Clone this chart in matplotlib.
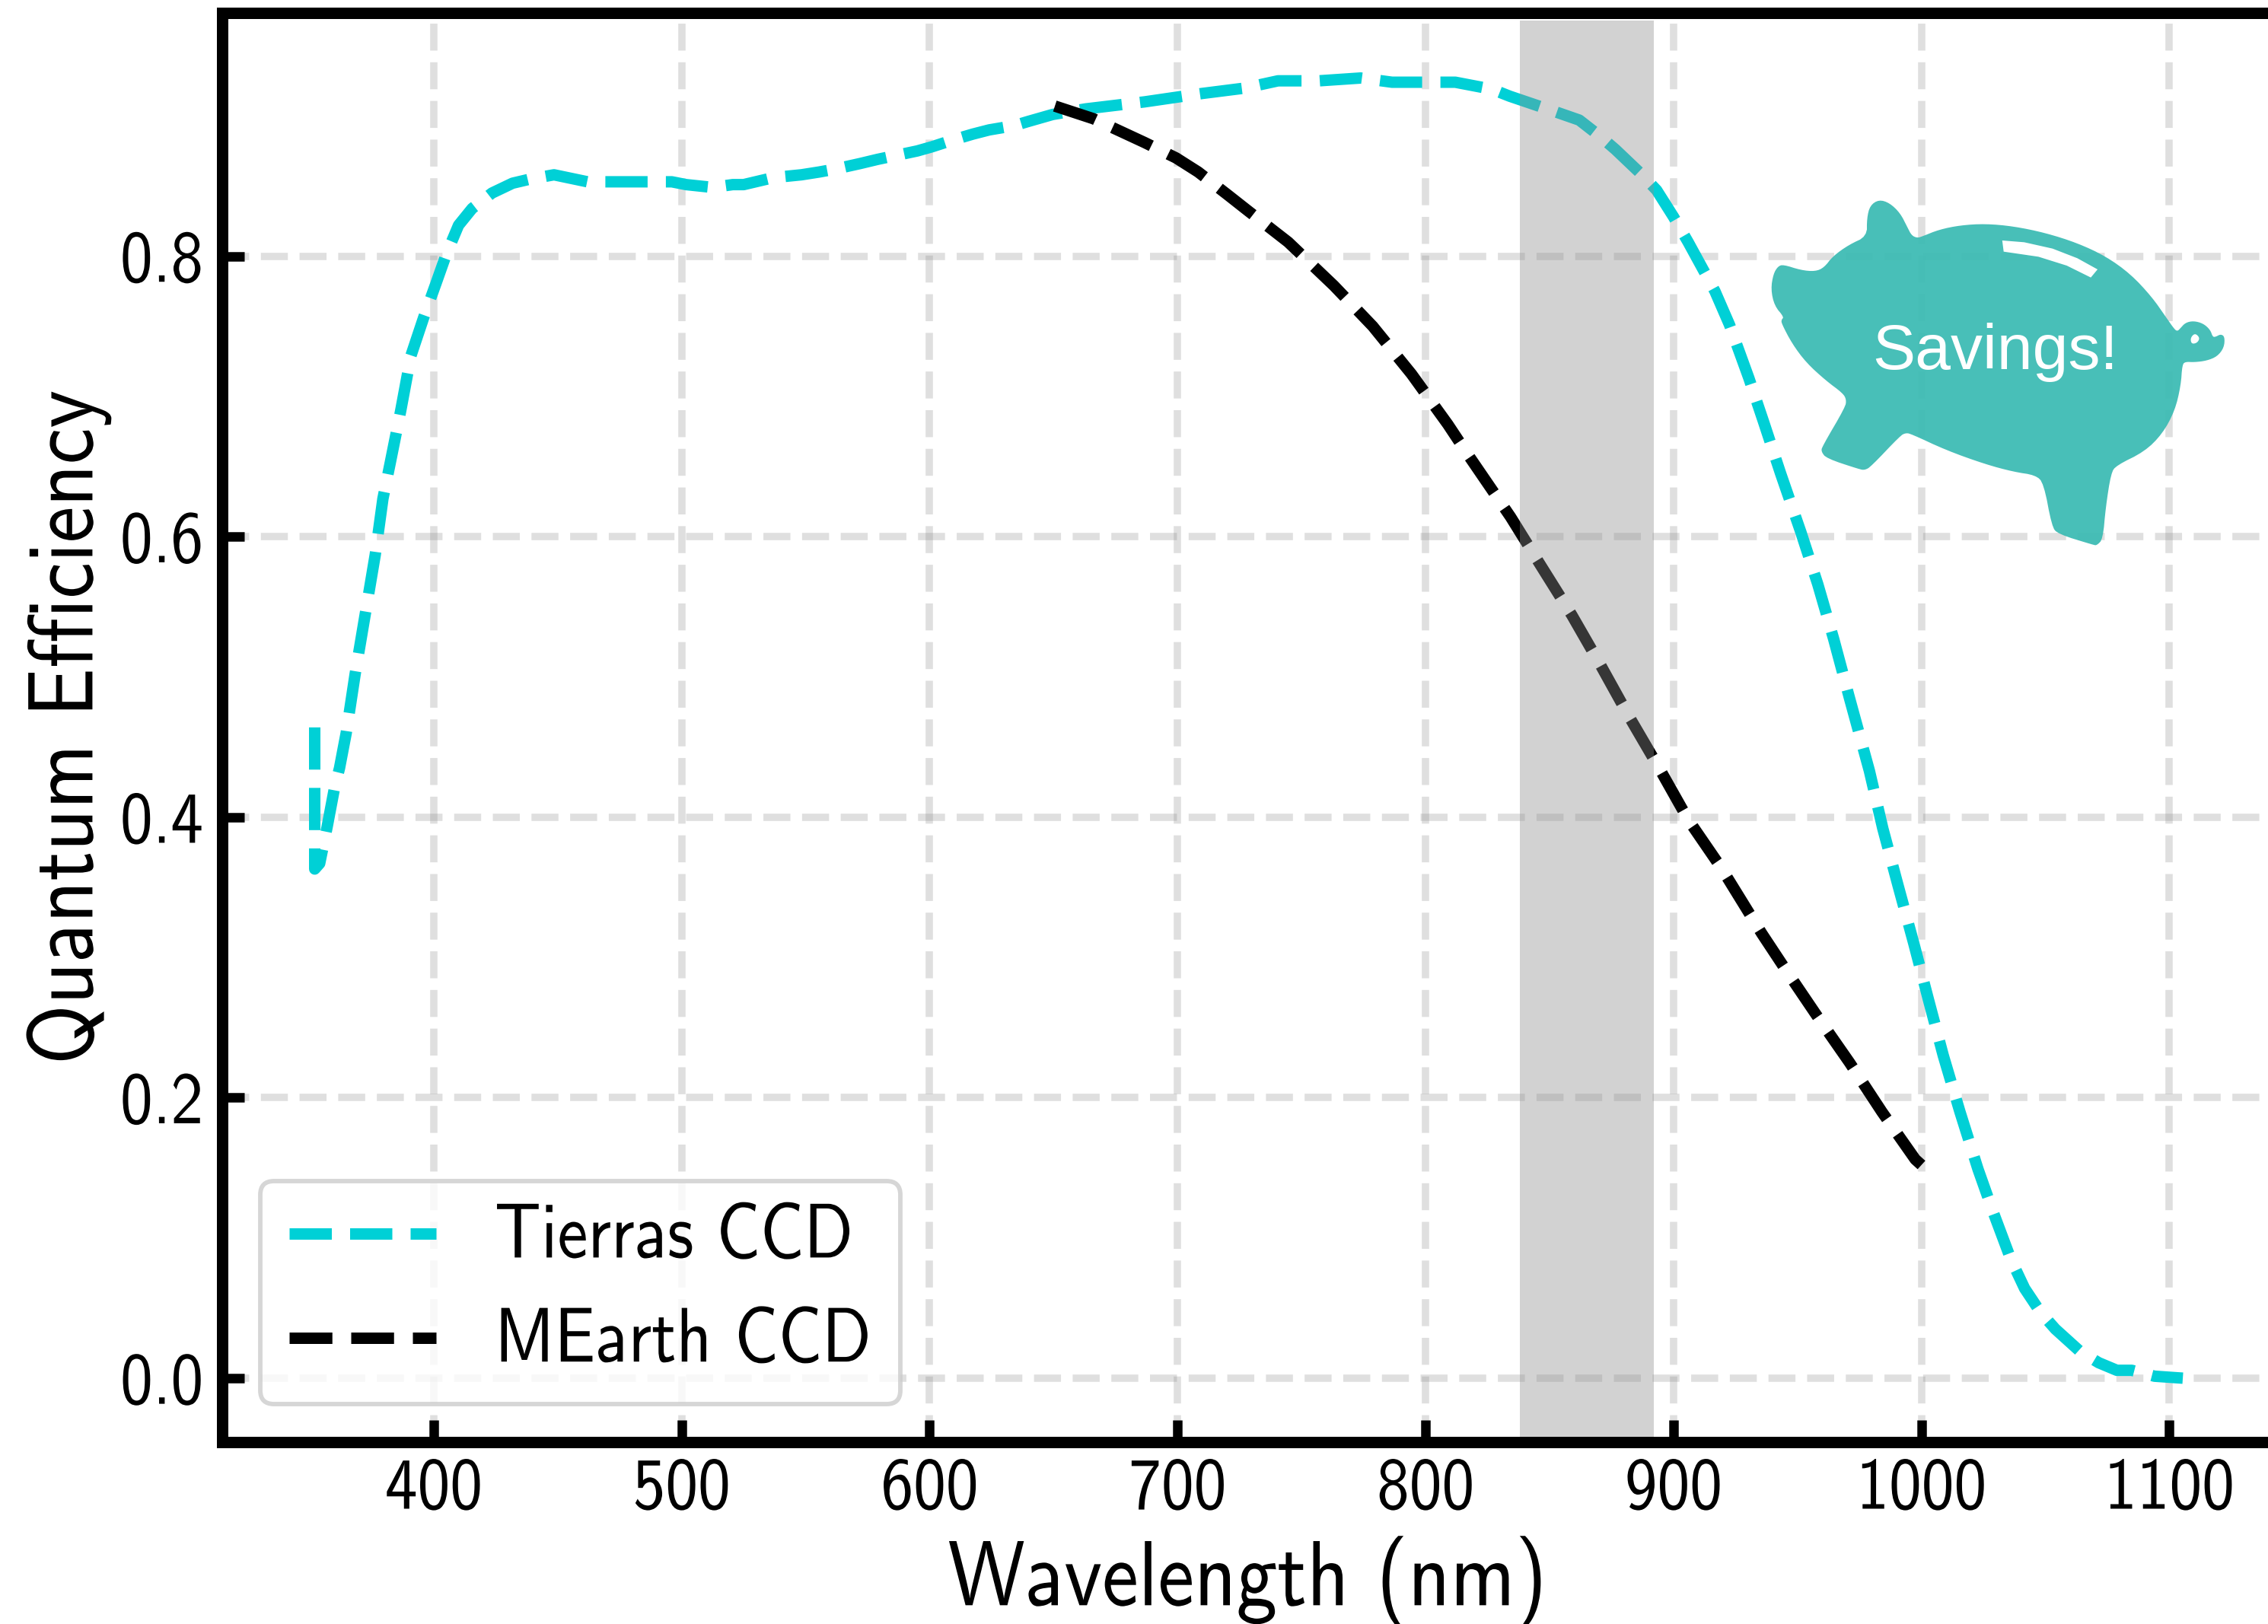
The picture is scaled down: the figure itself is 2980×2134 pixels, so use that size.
import numpy as np
import matplotlib
matplotlib.use("Agg")
from matplotlib import pyplot as plt
from matplotlib.patches import Polygon
from matplotlib.patheffects import AbstractPathEffect
from matplotlib.transforms import Affine2D

tierras_nm = [352, 352, 354, 357, 360, 362, 364.7, 368.3, 372.4, 376.4, 379.5, 382.5, 386.7, 390.8, 395.9, 401, 405, 410,
              415.5, 423.5, 431.8, 439, 448.5, 462, 478.3, 496, 501.8, 512.5, 520.6, 525, 537, 548.3, 555.5, 561.7, 571.9,
              579, 595, 601, 609.7, 617.4, 624, 634, 639.7, 649.6, 663,
              686.7, 710, 727.9, 732.7, 740.5, 757, 773.8, 786.5, 803.6, 812, 826.8, 834, 849, 862, 870.7, 876.6, 887.3,
              893.2, 900, 905.9, 912.7, 916.7, 922.6, 930.4, 936.3, 943.2, 951.4, 958.2, 964.6, 970.8, 979, 984.4, 990.6,
              996.9, 1002.8, 1008.8, 1015.5, 1022.8, 1028.8, 1036, 1041.6, 1048, 1054, 1064, 1071.5, 1078.8, 1084.8, 1094,
              1105.4]
tierras_qe = [0.464, 0.363, 0.367, 0.393, 0.421, 0.435, 0.46, 0.502, 0.545, 0.587, 0.627, 0.653, 0.69, 0.729, 0.756, 0.781,
              0.801, 0.822, 0.834, 0.845, 0.852, 0.855, 0.858, 0.853, 0.853, 0.853, 0.851, 0.849, 0.851, 0.851, 0.856, 0.858,
              0.86, 0.862, 0.866, 0.869, 0.875, 0.878, 0.883, 0.887,
              0.89, 0.893, 0.896, 0.901, 0.905, 0.91, 0.916, 0.92, 0.922, 0.925, 0.925, 0.927, 0.924, 0.924, 0.924, 0.919,
              0.914, 0.905, 0.897, 0.885, 0.876, 0.858, 0.847, 0.828, 0.81, 0.788, 0.775, 0.751, 0.713, 0.682, 0.645, 0.603,
              0.566, 0.527, 0.486, 0.433, 0.392, 0.351, 0.31, 0.27, 0.23, 0.19, 0.149, 0.119, 0.085, 0.064, 0.047, 0.035,
              0.019, 0.011, 0.0056, 0.0056, 0.0014, 0.0]
mearth_nm = [650.5, 666, 686.7, 699.4, 708.3, 720, 727.9, 744.6, 763, 778.7, 794.3, 809, 816.5, 834.3, 846.6, 859, 870.7,
             882.3, 894.2, 906, 919.2, 935.6, 944.2, 957.6, 971, 984, 997.5, 1000]
mearth_qe = [0.907, 0.898, 0.881, 0.87, 0.86, 0.844, 0.833, 0.81, 0.779, 0.75, 0.716, 0.68, 0.66, 0.614, 0.579, 0.544,
             0.508, 0.471, 0.435, 0.398, 0.364, 0.317, 0.294, 0.259, 0.225, 0.19, 0.156, 0.152]
band_nm = [838, 892.2]
x_ticks = [400, 500, 600, 700, 800, 900, 1000, 1100]
y_ticks = [0.0, 0.2, 0.4, 0.6, 0.8]

W, H = 2980, 2134

# piggy bank outline, pixels in a 2.148x / 3x crop of the picture
pig_body = [(436, 272), (436, 200), (445, 150), (470, 127), (500, 140), (530, 180), (550, 235), (562, 268), (578, 278),
            (592, 272), (640, 245), (700, 228), (770, 222), (850, 232), (940, 258), (1030, 298), (1110, 350), (1180, 420),
            (1240, 510), (1280, 590), (1305, 640), (1313, 645), (1320, 635), (1335, 612), (1358, 605), (1385, 615),
            (1405, 640), (1412, 668), (1420, 668), (1435, 657), (1446, 668), (1444, 710), (1425, 745), (1395, 762),
            (1360, 768), (1335, 766), (1326, 778), (1322, 860), (1305, 960), (1270, 1050), (1220, 1120), (1140, 1175),
            (1125, 1205), (1110, 1340), (1102, 1465), (1085, 1490), (1075, 1488), (975, 1445), (958, 1415), (935, 1245),
            (912, 1213), (850, 1200), (770, 1170), (660, 1115), (560, 1050), (545, 1047), (530, 1058), (447, 1180),
            (430, 1193), (415, 1190), (322, 1147), (307, 1120), (310, 1100), (375, 945), (378, 915), (368, 890), (320, 840),
            (265, 770), (225, 695), (195, 615), (195, 600), (202, 590), (175, 545), (165, 480), (172, 420), (185, 390),
            (200, 383), (250, 405), (290, 410), (315, 395), (340, 350), (385, 305)]
pig_shine = [(818, 288), (880, 295), (960, 320), (1030, 358), (1087, 402), (1068, 434), (1000, 387), (920, 352), (822, 332)]
pig_eye = [(1362, 653), (1376, 672), (1368, 692), (1352, 696), (1349, 672)]


class TallText(AbstractPathEffect):
    # the reference text is narrower than cmss10, so size for width and stretch up
    def __init__(self, sy=1.13, y0=0):
        super().__init__()
        self.sy = sy
        self.y0 = y0

    def draw_path(self, renderer, gc, tpath, affine, rgbFace=None):
        tall = Affine2D().translate(0, -self.y0).scale(1, self.sy).translate(0, self.y0) + affine
        renderer.draw_path(gc, tpath, tall, rgbFace)


def pig_xy(points):
    pts = np.array(points, dtype=float)
    return np.column_stack([(2250 + pts[:, 0] / 2.148) / W, 1 - (220 + pts[:, 1] / 3) / H])


def rounded(points, passes=2):
    pts = np.array(points, dtype=float)
    for _ in range(passes):
        nxt = np.roll(pts, -1, axis=0)
        pts = np.column_stack([0.75 * pts + 0.25 * nxt, 0.25 * pts + 0.75 * nxt]).reshape(-1, 2)
    return pts


plt.rcParams["font.family"] = ["cmss10", "DejaVu Sans"]
plt.rcParams["axes.unicode_minus"] = False
plt.rcParams["axes.formatter.use_mathtext"] = True

fig = plt.figure(figsize=(W / 300, H / 300), dpi=300)
left, right, top, bottom = 292, 2986, 17, 1895
ax = fig.add_axes([left / W, 1 - bottom / H, (right - left) / W, (bottom - top) / H])

ax.grid(True, color="gray", alpha=0.25, linewidth=2.3, linestyle="--")
ax.set_axisbelow(True)
ax.plot(tierras_nm, tierras_qe, color="#00d0d6", linewidth=3.6, linestyle="--", label="Tierras CCD")
ax.plot(mearth_nm, mearth_qe, color="black", linewidth=3.6, linestyle=(0, (3.75, 1.65)), label="MEarth CCD")
ax.fill_between(band_nm, -0.05, 0.968, color="#8d8d8d", alpha=0.39, linewidth=0, zorder=5)

ax.set_xlim(314.7, 1141.6)
ax.set_ylim(-0.0456, 0.9734)
ax.set_xticks(x_ticks)
ax.set_yticks(y_ticks)
ax.set_xticklabels([str(t) for t in x_ticks])
ax.set_yticklabels([f"{t:.1f}" for t in y_ticks])
ax.tick_params(direction="in", length=7, width=3, labelsize=20.5)
ax.tick_params(axis="x", pad=6.6)
ax.tick_params(axis="y", pad=6)
for side in ax.spines.values():
    side.set_linewidth(3.6)
    side.set_zorder(6)
for lab in ax.get_xticklabels():
    lab.set_path_effects([TallText()])
for lab in ax.get_yticklabels():
    lab.set_path_effects([TallText(y0=33)])
ax.set_xlabel("Wavelength (nm)", fontsize=25.8, labelpad=6.8, path_effects=[TallText()])
ax.set_ylabel("Quantum Efficiency", fontsize=25.8, labelpad=3.5, path_effects=[TallText()])

leg = ax.legend(loc="lower left", bbox_to_anchor=(342 / W, 1 - 1845 / H), bbox_transform=fig.transFigure, borderaxespad=0,
                fontsize=21.6, handlelength=2.15, labelspacing=0.62, handletextpad=0.85, borderpad=0.42)
leg.get_frame().set_linewidth(1.4)
for lab in leg.get_texts():
    lab.set_path_effects([TallText(y0=0)])

fig.add_artist(Polygon(pig_xy(rounded(pig_body)), closed=True, transform=fig.transFigure, facecolor="#3ebcb4",
                       edgecolor="none", alpha=0.95, zorder=6))
fig.add_artist(Polygon(pig_xy(pig_shine), closed=True, transform=fig.transFigure, facecolor="white",
                       edgecolor="none", zorder=7))
fig.add_artist(Polygon(pig_xy(rounded(pig_eye)), closed=True, transform=fig.transFigure, facecolor="white",
                       edgecolor="none", zorder=7))
fig.text(2622 / W, 1 - 485 / H, "Savings!", family="Liberation Sans", fontsize=20.2, color="white", ha="center",
         va="baseline", zorder=8)

fig.savefig("out.png", dpi=300)
